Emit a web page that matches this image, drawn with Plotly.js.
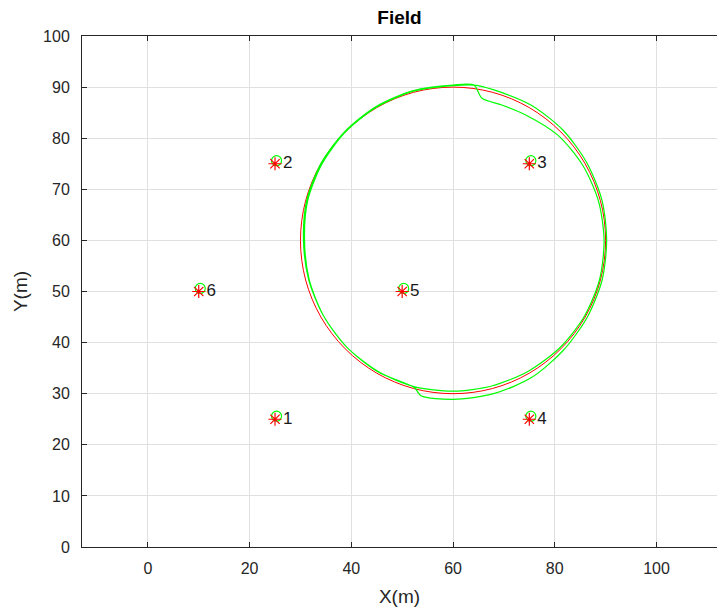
<!DOCTYPE html>
<html>
<head>
<meta charset="utf-8">
<script src="https://cdn.plot.ly/plotly-3.0.1.min.js"></script>
<style>html,body{margin:0;padding:0;background:#fff;}#chart{width:717px;height:607px;}</style>
</head>
<body>
<div id="chart"></div>
<script>
// Anchor nodes (true positions) and labels
const anchorX = [25, 25, 75, 75, 50, 10];
const anchorY = [25, 75, 75, 25, 50, 50];
const anchorLabels = ['1', '2', '3', '4', '5', '6'];

// Estimated anchor positions (green circles)
const estX = [25.3, 25.3, 75.3, 75.3, 50.3, 10.3];
const estY = [25.6, 75.6, 75.6, 25.6, 50.6, 50.6];

// Reference (true) trajectory, red
const refX = [90, 88.98, 85.98, 81.21, 75, 67.76, 60, 52.24, 45, 38.79, 34.02, 31.02, 30,
              31.02, 34.02, 38.79, 45, 52.24, 60, 67.76, 75, 81.21, 85.98, 88.98, 90];
const refY = [60, 67.76, 75, 81.21, 85.98, 88.98, 90, 88.98, 85.98, 81.21, 75, 67.76, 60,
              52.24, 45, 38.79, 34.02, 31.02, 30, 31.02, 34.02, 38.79, 45, 52.24, 60];

// Estimated trajectory, green (two laps)
const estTrackX = [64.1, 60, 52.2, 44.9, 38.7, 34.0, 31.2, 30.6, 31.6, 34.5, 39.1, 45.2, 52.4, 53.7,
                   60, 68.0, 75.5, 81.6, 86.3, 89.3, 90.2, 89.3, 86.3, 81.6, 75.3, 67.9, 64.2,
                   60, 52.2, 45.0, 38.8, 34.2, 31.4, 30.8, 31.7, 34.5, 39.1, 45.2, 52.3,
                   60, 67.6, 74.8, 81.0, 85.8, 88.8, 89.7, 88.6, 85.5, 80.6, 74.2, 69.6, 65.7, 64.1];
const estTrackY = [90.4, 90.4, 89.3, 86.2, 81.3, 75.0, 67.7, 60, 52.4, 45.3, 39.1, 34.3, 31.2, 29.6,
                   28.9, 30.0, 33.2, 38.4, 44.8, 52.2, 60, 67.8, 75.2, 81.6, 86.5, 89.5, 90.4,
                   90.3, 89.2, 86.1, 81.2, 74.9, 67.7, 60, 52.4, 45.3, 39.1, 34.4, 31.4,
                   30.5, 31.5, 34.4, 39.0, 45.1, 52.3, 60, 67.7, 74.7, 80.6, 84.6, 86.5, 87.8, 90.4];

const axisColor = '#262626';
const gridColor = '#e0e0e0';
const fontFam = '"Liberation Sans", Arial, Helvetica, sans-serif';

const traces = [
  {
    x: refX, y: refY, type: 'scatter', mode: 'lines',
    line: {color: '#ff0000', width: 1, shape: 'spline', smoothing: 1},
    hoverinfo: 'skip', showlegend: false
  },
  {
    x: estTrackX, y: estTrackY, type: 'scatter', mode: 'lines',
    line: {color: '#00ff00', width: 1.2, shape: 'spline', smoothing: 0.8},
    hoverinfo: 'skip', showlegend: false
  },
  {
    x: estX, y: estY, type: 'scatter', mode: 'markers',
    marker: {symbol: 'circle-open', size: 10, color: '#00ff00', line: {width: 1.2, color: '#00ff00'}},
    hoverinfo: 'skip', showlegend: false
  },
  {
    x: anchorX, y: anchorY, type: 'scatter', mode: 'markers+text',
    text: anchorLabels, textposition: 'middle right',
    textfont: {family: fontFam, size: 17, color: '#1a1a1a'},
    marker: {symbol: 'asterisk-open', size: 11, color: '#ff0000', line: {width: 1.2, color: '#ff0000'}},
    hoverinfo: 'skip', showlegend: false
  }
];

const layout = {
  width: 717, height: 607,
  paper_bgcolor: '#ffffff', plot_bgcolor: '#ffffff',
  margin: {l: 82, r: 0, t: 36, b: 60, pad: 0},
  showlegend: false,
  font: {family: fontFam, size: 16, color: axisColor},
  title: {
    text: '<b>Field</b>', x: 0.5, xref: 'paper', xanchor: 'center',
    y: 1 - 17 / 607, yref: 'container', yanchor: 'middle',
    font: {family: fontFam, size: 19, color: '#000000'}
  },
  xaxis: {
    range: [-12.95, 111.9], tickvals: [0, 20, 40, 60, 80, 100],
    showgrid: true, gridcolor: gridColor, gridwidth: 1, zeroline: false,
    showline: true, linecolor: axisColor, linewidth: 1, mirror: 'ticks',
    ticks: 'inside', ticklen: 5, tickcolor: axisColor, tickwidth: 1,
    ticklabelstandoff: 7,
    tickfont: {family: fontFam, size: 16, color: axisColor},
    title: {text: 'X(m)', standoff: 14, font: {family: fontFam, size: 19, color: axisColor}},
    automargin: false, fixedrange: true
  },
  yaxis: {
    range: [0, 100], tickvals: [0, 10, 20, 30, 40, 50, 60, 70, 80, 90, 100],
    showgrid: true, gridcolor: gridColor, gridwidth: 1, zeroline: false,
    showline: true, linecolor: axisColor, linewidth: 1, mirror: false,
    ticks: 'inside', ticklen: 5, tickcolor: axisColor, tickwidth: 1,
    ticklabelstandoff: 8,
    tickfont: {family: fontFam, size: 16, color: axisColor},
    title: {text: 'Y(m)', standoff: 10, font: {family: fontFam, size: 19, color: axisColor}},
    automargin: false, fixedrange: true
  }
};

Plotly.newPlot('chart', traces, layout, {displayModeBar: false, staticPlot: true});
</script>
</body>
</html>
